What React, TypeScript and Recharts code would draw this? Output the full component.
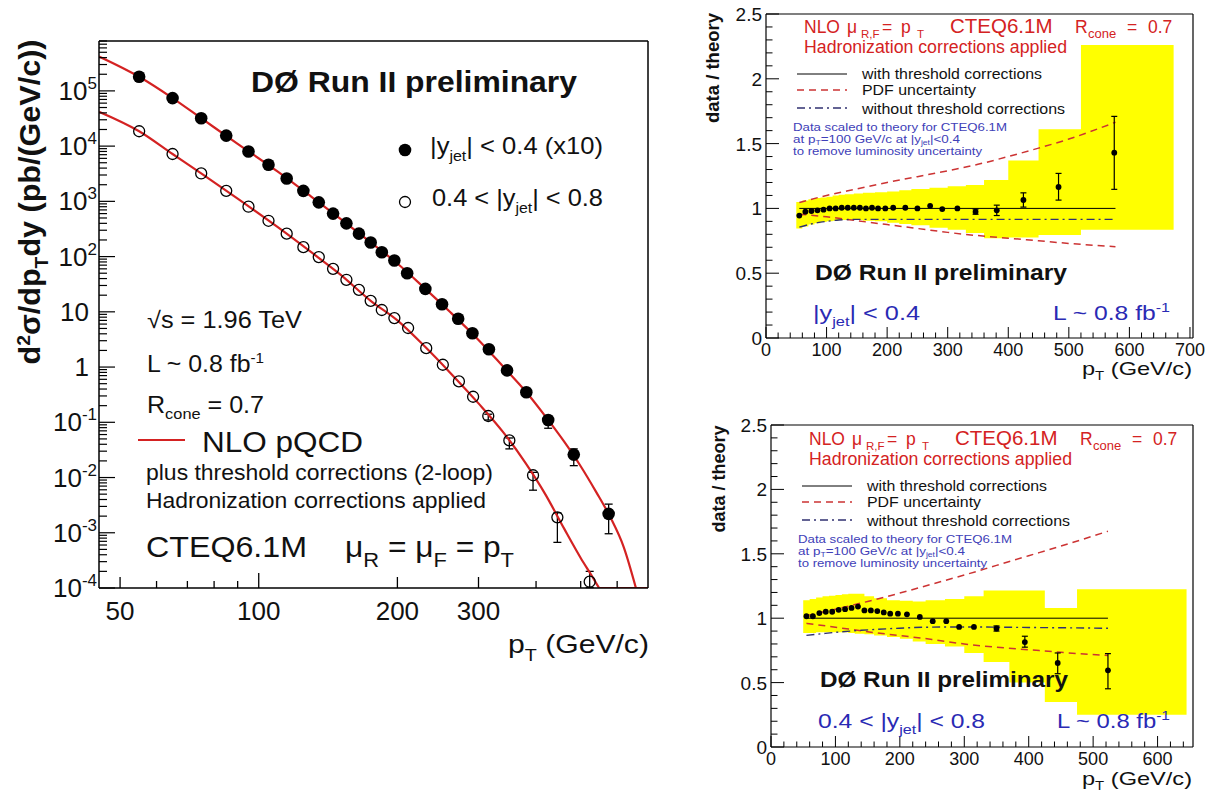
import React from 'react';
import { ComposedChart, Line, Scatter, XAxis, YAxis, Area, ErrorBar } from 'recharts';

const FONT = '"Liberation Sans", Arial, Helvetica, sans-serif';
const RED = '#d42222';
const BLUE = '#2a2ab4';
const SMALLBLUE = '#4040b8';
const DASHDOT = '#303070';

// ---------------- Left panel: cross sections ----------------
const ptCentral = [55, 65, 75, 85, 95, 105, 115, 125, 135, 145, 155, 165, 175, 185, 197, 210, 230, 250, 271, 291, 316, 346, 381, 425, 483, 575];
const xsCentral = [1.8e5, 7.4e4, 3.2e4, 1.55e4, 8.0e3, 4.6e3, 2.6e3, 1.55e3, 960, 600, 400, 260, 180, 120, 85, 50, 26, 13.7, 7.5, 4.1, 2.1, 0.87, 0.35, 0.11, 0.026, 2.2e-3];
const ptForward = [55, 65, 75, 85, 95, 105, 115, 125, 135, 145, 155, 165, 175, 185, 197, 211, 231, 251, 272, 292, 315, 350, 394, 445, 523];
const xsForward = [1.86e4, 7.2e3, 3.2e3, 1.55e3, 800, 445, 260, 148, 98, 60, 38, 25, 15.8, 10.8, 7.7, 5.1, 2.2, 1.1, 0.55, 0.29, 0.13, 0.047, 0.011, 1.9e-3, 1.3e-4];

const errCentralPt = [425, 483, 575];
const errCentralLo = [0.078, 0.0164, 9.6e-4];
const errCentralHi = [0.13, 0.033, 3.3e-3];
const errForwardPt = [315, 350, 394, 445, 523];
const errForwardLo = [0.11, 0.033, 5.9e-3, 6.7e-4, 1.02e-4];
const errForwardHi = [0.14, 0.052, 0.0124, 2.3e-3, 2.0e-4];

const thCentralPt = [45, 55, 65, 75, 90, 110, 130, 150, 175, 200, 230, 260, 300, 340, 380, 420, 460, 500, 540, 580, 620, 659];
const thCentral = [4.2e5, 1.8e5, 7.4e4, 3.2e4, 1.1e4, 3.45e3, 1.22e3, 490, 180, 75, 26, 10, 3.1, 1.0, 0.36, 0.125, 0.045, 0.016, 5.5e-3, 1.9e-3, 5.5e-4, 1e-4];
const thForwardPt = [45, 55, 65, 75, 90, 110, 130, 150, 175, 200, 230, 260, 300, 340, 380, 420, 460, 500, 530, 548];
const thForward = [4.2e4, 1.86e4, 7.2e3, 3.2e3, 1.12e3, 340, 120, 48, 15.8, 7.0, 2.3, 0.8, 0.22, 0.065, 0.018, 4.8e-3, 1.2e-3, 3.5e-4, 1.6e-4, 1.0e-4];
const thFloorPt = [548, 700];
const thFloor = [1e-4, 1e-4];

const leftXLabels = [50, 100, 200, 300];
const leftXMinor = [60, 70, 80, 90, 400, 500, 600];
const leftYDecades = [1e-4, 1e-3, 1e-2, 1e-1, 1, 10, 1e2, 1e3, 1e4, 1e5];

// ---------------- Top right: |y|<0.4 ratio ----------------
const ratioTopPt = ptCentral;
const ratioTop = [0.945, 0.975, 0.98, 0.985, 0.99, 1.0, 1.0, 1.005, 1.005, 1.005, 1.005, 1.0, 1.005, 1.0, 1.0, 1.005, 1.005, 1.0, 1.02, 0.995, 1.0, 0.975, 0.985, 1.065, 1.165, 1.43];
const errTopPt = [346, 381, 425, 483, 575];
const errTopLo = [0.955, 0.945, 1.01, 1.064, 1.147];
const errTopHi = [0.995, 1.025, 1.12, 1.27, 1.71];
const bandTopEdges = [50, 60, 70, 80, 90, 100, 110, 120, 130, 145, 160, 180, 200, 220, 240, 270, 300, 330, 360, 400, 450, 520, 673];
const bandTopLo = [0.845, 0.86, 0.875, 0.885, 0.895, 0.9, 0.905, 0.91, 0.91, 0.91, 0.905, 0.9, 0.89, 0.88, 0.87, 0.85, 0.835, 0.81, 0.77, 0.775, 0.795, 0.835];
const bandTopHi = [1.05, 1.06, 1.07, 1.08, 1.085, 1.09, 1.1, 1.105, 1.11, 1.115, 1.12, 1.125, 1.13, 1.14, 1.15, 1.16, 1.17, 1.18, 1.22, 1.37, 1.61, 2.26];
const pdfTopPt = [55, 100, 150, 200, 250, 300, 350, 400, 450, 500, 577];
const pdfUpTop = [1.045, 1.1, 1.15, 1.2, 1.245, 1.29, 1.34, 1.4, 1.465, 1.535, 1.665];
const pdfLoTop = [0.955, 0.935, 0.905, 0.875, 0.845, 0.815, 0.79, 0.77, 0.75, 0.73, 0.705];
const noThrTopPt = [55, 70, 85, 100, 120, 150, 200, 300, 400, 577];
const noThrTop = [0.855, 0.875, 0.89, 0.9, 0.91, 0.915, 0.915, 0.915, 0.915, 0.915];
const unityTopPt = [55, 577];
const unityTop = [1, 1];

// ---------------- Bottom right: 0.4<|y|<0.8 ratio ----------------
const ratioBotPt = ptForward;
const ratioBot = [1.015, 1.015, 1.04, 1.05, 1.05, 1.065, 1.07, 1.08, 1.09, 1.06, 1.06, 1.055, 1.045, 1.035, 1.035, 1.03, 1.01, 0.977, 0.977, 0.932, 0.932, 0.92, 0.815, 0.652, 0.595];
const errBotPt = [350, 394, 445, 523];
const errBotLo = [0.9, 0.775, 0.569, 0.452];
const errBotHi = [0.94, 0.86, 0.73, 0.725];
const bandBotEdges = [50, 60, 70, 80, 90, 100, 110, 120, 130, 145, 160, 180, 200, 220, 240, 270, 300, 330, 370, 425, 475, 645];
const bandBotLo = [0.885, 0.885, 0.89, 0.89, 0.89, 0.89, 0.89, 0.885, 0.88, 0.875, 0.865, 0.855, 0.84, 0.82, 0.8, 0.78, 0.73, 0.66, 0.5, 0.35, 0.25];
const bandBotHi = [1.14, 1.15, 1.16, 1.17, 1.175, 1.18, 1.185, 1.19, 1.19, 1.17, 1.155, 1.14, 1.135, 1.13, 1.14, 1.15, 1.17, 1.215, 1.215, 1.08, 1.225];
const pdfBotPt = [55, 100, 150, 200, 250, 300, 350, 400, 450, 523];
const pdfUpBot = [1.02, 1.07, 1.13, 1.195, 1.265, 1.335, 1.41, 1.485, 1.56, 1.675];
const pdfLoBot = [0.96, 0.93, 0.895, 0.865, 0.835, 0.8, 0.775, 0.755, 0.735, 0.71];
const noThrBotPt = [55, 80, 100, 140, 190, 240, 300, 400, 523];
const noThrBot = [0.867, 0.88, 0.89, 0.906, 0.92, 0.93, 0.932, 0.928, 0.922];
const unityBotPt = [55, 523];
const unityBot = [1, 1];

const ratioYLabels = [0, 0.5, 1, 1.5, 2, 2.5];

// ---------------- helpers ----------------
const table = (pts: number[], vals: number[]) => pts.map((pt, i) => ({ pt, v: vals[i] }));
const errTable = (pts: number[], vals: number[], ePts: number[], lo: number[], hi: number[]) =>
  ePts.map((pt, i) => {
    const v = vals[pts.indexOf(pt)];
    return { pt, v, err: [v - lo[i], hi[i] - v] };
  });
const bandTable = (edges: number[], lo: number[], hi: number[]) =>
  edges.map((pt, i) => {
    const k = Math.min(i, lo.length - 1);
    return { pt, band: [lo[k], hi[k]] };
  });
const stepTicks = (a: number, b: number, step: number) => {
  const r: number[] = [];
  for (let i = 0; a + i * step <= b + 1e-9; i++) r.push(Number((a + i * step).toFixed(4)));
  return r;
};

const leftYTicks: number[] = [];
leftYDecades.forEach((d) => {
  leftYTicks.push(d);
  for (let k = 2; k <= 9; k++) {
    const v = Number((k * d).toPrecision(6));
    if (v <= 8e5) leftYTicks.push(v);
  }
});
const leftXTicks = [...leftXLabels, ...leftXMinor].sort((a, b) => a - b);

// ---------------- tick renderers ----------------
const LeftXTick = (props: any) => {
  const { x, y, payload } = props;
  const v = payload.value;
  const labeled = leftXLabels.includes(v);
  const len = v === 100 ? 15 : labeled ? 11 : 7;
  return (
    <g>
      <line x1={x} x2={x} y1={y} y2={y - len} stroke="#000" strokeWidth={1.3} />
      {labeled && (
        <text x={x} y={y + 32} textAnchor="middle" fontSize={26} fontFamily={FONT} fill="#111">
          {v}
        </text>
      )}
    </g>
  );
};

const LeftYTick = (props: any) => {
  const { x, y, payload } = props;
  const v = payload.value;
  const lg = Math.log10(v);
  const e = Math.round(lg);
  const major = Math.abs(lg - e) < 1e-6;
  let label: any = null;
  if (major) {
    if (e === 0 || e === 1) {
      label = (
        <text x={x - 10} y={y + 9} textAnchor="end" fontSize={26} fontFamily={FONT} fill="#111">
          {e === 0 ? '1' : '10'}
        </text>
      );
    } else {
      label = (
        <text x={x - 2} y={y + 9} textAnchor="end" fontSize={26} fontFamily={FONT} fill="#111">
          10<tspan dy={-11} fontSize={17}>{String(e)}</tspan>
        </text>
      );
    }
  }
  return (
    <g>
      <line x1={x} x2={x + (major ? 16 : 8)} y1={y} y2={y} stroke="#000" strokeWidth={1.2} />
      {label}
    </g>
  );
};

const RatioYTick = (props: any) => {
  const { x, y, payload } = props;
  const v = payload.value;
  const major = ratioYLabels.some((m) => Math.abs(m - v) < 1e-6);
  return (
    <g>
      <line x1={x} x2={x + (major ? 13 : 6.5)} y1={y} y2={y} stroke="#000" strokeWidth={1} />
      {major && (
        <text x={x - 4} y={y + 7} textAnchor="end" fontSize={19} fontFamily={FONT} fill="#111">
          {String(Math.round(v * 10) / 10)}
        </text>
      )}
    </g>
  );
};

const RatioXTick = (props: any) => {
  const { x, y, payload } = props;
  const v = payload.value;
  const major = Math.abs(v / 100 - Math.round(v / 100)) < 1e-6;
  return (
    <g>
      <line x1={x} x2={x} y1={y} y2={y - (major ? 11 : 5.5)} stroke="#000" strokeWidth={1} />
      {major && (
        <text x={x} y={y + 18} textAnchor="middle" fontSize={18} fontFamily={FONT} fill="#111">
          {String(v)}
        </text>
      )}
    </g>
  );
};

const FilledDot = (r: number) => (p: any) => <circle cx={p.cx} cy={p.cy} r={r} fill="#000" />;
const OpenDot = (p: any) => <circle cx={p.cx} cy={p.cy} r={5.5} fill="none" stroke="#000" strokeWidth={1.3} />;
const NoDot = () => <g />;

// ---------------- charts ----------------
function LeftChart() {
  const W = 690;
  const H = 700;
  return (
    <ComposedChart width={W} height={H} margin={{ top: 40, left: 98, right: W - 648 - 1, bottom: H - 588 - 1 }}>
      <XAxis xAxisId="b" dataKey="pt" type="number" scale="log" domain={[45, 700]} allowDataOverflow ticks={leftXTicks}
        interval={0} tick={LeftXTick} tickLine={false} tickSize={0} tickMargin={0} height={1}
        axisLine={{ stroke: '#000', strokeWidth: 1.5 }} />
      <XAxis xAxisId="t" orientation="top" type="number" scale="log" domain={[45, 700]} allowDataOverflow tick={false}
        tickLine={false} height={1} axisLine={{ stroke: '#000', strokeWidth: 1.5 }} />
      <YAxis yAxisId="l" dataKey="v" type="number" scale="log" domain={[1e-4, 8e5]} allowDataOverflow ticks={leftYTicks}
        interval={0} tick={LeftYTick} tickLine={false} tickSize={0} tickMargin={0} width={1}
        axisLine={{ stroke: '#000', strokeWidth: 1.5 }} />
      <YAxis yAxisId="r" orientation="right" type="number" scale="log" domain={[1e-4, 8e5]} allowDataOverflow tick={false}
        tickLine={false} width={1} axisLine={{ stroke: '#000', strokeWidth: 1.5 }} />
      <Scatter xAxisId="b" yAxisId="l" data={table(ptCentral, xsCentral)} shape={FilledDot(6.3)} isAnimationActive={false} />
      <Scatter xAxisId="b" yAxisId="l" data={table(ptForward, xsForward)} shape={OpenDot} isAnimationActive={false} />
      <Scatter xAxisId="b" yAxisId="l" data={errTable(ptCentral, xsCentral, errCentralPt, errCentralLo, errCentralHi)} shape={NoDot} isAnimationActive={false}>
        <ErrorBar dataKey="err" direction="y" width={4} stroke="#000" strokeWidth={1.3} isAnimationActive={false} />
      </Scatter>
      <Scatter xAxisId="b" yAxisId="l" data={errTable(ptForward, xsForward, errForwardPt, errForwardLo, errForwardHi)} shape={NoDot} isAnimationActive={false}>
        <ErrorBar dataKey="err" direction="y" width={4} stroke="#000" strokeWidth={1.3} isAnimationActive={false} />
      </Scatter>
      <Line xAxisId="b" yAxisId="l" data={table(thCentralPt, thCentral)} dataKey="v" type="monotone" stroke={RED} strokeWidth={2.2} dot={false} isAnimationActive={false} />
      <Line xAxisId="b" yAxisId="l" data={table(thForwardPt, thForward)} dataKey="v" type="monotone" stroke={RED} strokeWidth={2.2} dot={false} isAnimationActive={false} />
      <Line xAxisId="b" yAxisId="l" data={table(thFloorPt, thFloor)} dataKey="v" type="linear" stroke={RED} strokeWidth={2.2} dot={false} isAnimationActive={false} />
    </ComposedChart>
  );
}

type RatioProps = {
  W: number; H: number; margin: any; xMax: number; xTicks: number[];
  band: any[]; pts: number[]; vals: number[]; errs: any[];
  pdfPt: number[]; pdfUp: number[]; pdfLo: number[];
  ntPt: number[]; nt: number[]; uPt: number[]; u: number[];
};

function RatioChart(p: RatioProps) {
  const yTicks = stepTicks(0, 2.5, 0.1);
  return (
    <ComposedChart width={p.W} height={p.H} margin={p.margin} data={p.band}>
      <XAxis xAxisId="b" dataKey="pt" type="number" domain={[0, p.xMax]} allowDataOverflow ticks={p.xTicks} interval={0}
        tick={RatioXTick} tickLine={false} tickSize={0} tickMargin={0} height={1} axisLine={{ stroke: '#000', strokeWidth: 1.2 }} />
      <XAxis xAxisId="t" orientation="top" type="number" domain={[0, p.xMax]} tick={false} tickLine={false} height={1}
        axisLine={{ stroke: '#000', strokeWidth: 1.2 }} />
      <YAxis yAxisId="l" dataKey="v" type="number" domain={[0, 2.5]} allowDataOverflow ticks={yTicks} interval={0}
        tick={RatioYTick} tickLine={false} tickSize={0} tickMargin={0} width={1} axisLine={{ stroke: '#000', strokeWidth: 1.2 }} />
      <YAxis yAxisId="r" orientation="right" type="number" domain={[0, 2.5]} tick={false} tickLine={false} width={1}
        axisLine={{ stroke: '#000', strokeWidth: 1.2 }} />
      <Area xAxisId="b" yAxisId="l" dataKey="band" type="stepAfter" fill="#ffff00" fillOpacity={1} stroke="none" isAnimationActive={false} />
      <Line xAxisId="b" yAxisId="l" data={table(p.pdfPt, p.pdfUp)} dataKey="v" type="monotone" stroke="#cc3333" strokeWidth={1.5} strokeDasharray="7 5" dot={false} isAnimationActive={false} />
      <Line xAxisId="b" yAxisId="l" data={table(p.pdfPt, p.pdfLo)} dataKey="v" type="monotone" stroke="#cc3333" strokeWidth={1.5} strokeDasharray="7 5" dot={false} isAnimationActive={false} />
      <Line xAxisId="b" yAxisId="l" data={table(p.ntPt, p.nt)} dataKey="v" type="monotone" stroke={DASHDOT} strokeWidth={1.4} strokeDasharray="8 4 2 4" dot={false} isAnimationActive={false} />
      <Line xAxisId="b" yAxisId="l" data={table(p.uPt, p.u)} dataKey="v" type="linear" stroke="#000" strokeWidth={1} dot={false} isAnimationActive={false} />
      <Scatter xAxisId="b" yAxisId="l" data={p.errs} shape={NoDot} isAnimationActive={false}>
        <ErrorBar dataKey="err" direction="y" width={3} stroke="#000" strokeWidth={1.2} isAnimationActive={false} />
      </Scatter>
      <Scatter xAxisId="b" yAxisId="l" data={table(p.pts, p.vals)} shape={FilledDot(2.9)} isAnimationActive={false} />
    </ComposedChart>
  );
}

// ---------------- annotations ----------------
const LA = { lengthAdjust: 'spacingAndGlyphs' as any };

function RightHeader({ ox, oy }: { ox: number; oy: number }) {
  const y1 = 33 + oy;
  const ys = y1 + 5;
  return (
    <g>
      <text fill={RED} fontSize={17.5}>
        <tspan x={804 + ox} y={y1}>NLO</tspan>
        <tspan x={847 + ox} y={y1}>μ</tspan>
        <tspan x={861 + ox} y={ys} fontSize={11.5}>R,F</tspan>
        <tspan x={882 + ox} y={y1}>=</tspan>
        <tspan x={901 + ox} y={y1}>p</tspan>
        <tspan x={917 + ox} y={ys} fontSize={11.5}>T</tspan>
        <tspan x={950 + ox} y={y1} fontSize={20.5}>CTEQ6.1M</tspan>
        <tspan x={1075 + ox} y={y1}>R</tspan>
        <tspan x={1088 + ox} y={ys} fontSize={13}>cone</tspan>
        <tspan x={1127 + ox} y={y1}>=</tspan>
        <tspan x={1148 + ox} y={y1}>0.7</tspan>
      </text>
      <text fill={RED} fontSize={17.5} x={804 + ox} y={52.5 + oy} textLength={263} {...LA}>Hadronization corrections applied</text>
      <line x1={797 + ox} x2={847 + ox} y1={74 + oy} y2={74 + oy} stroke="#000" strokeWidth={1} />
      <line x1={797 + ox} x2={847 + ox} y1={90 + oy} y2={90 + oy} stroke="#cc3333" strokeWidth={1.5} strokeDasharray="7 5" />
      <line x1={797 + ox} x2={847 + ox} y1={108 + oy} y2={108 + oy} stroke={DASHDOT} strokeWidth={1.4} strokeDasharray="8 4 2 4" />
      <g fill="#111" fontSize={15}>
        <text x={862 + ox} y={79 + oy} textLength={180} {...LA}>with threshold corrections</text>
        <text x={862 + ox} y={95 + oy} textLength={114} {...LA}>PDF uncertainty</text>
        <text x={862 + ox} y={114 + oy} textLength={203} {...LA}>without threshold corrections</text>
      </g>
      <g fill={SMALLBLUE} fontSize={11}>
        <text x={793 + ox} y={130.5 + oy} textLength={214} {...LA}>Data scaled to theory for CTEQ6.1M</text>
        <text x={793 + ox} y={142.5 + oy} textLength={167} {...LA}>
          at p<tspan dy={2} fontSize={7}>T</tspan><tspan dy={-2}>=100 GeV/c at |y</tspan><tspan dy={2} fontSize={7}>jet</tspan><tspan dy={-2}>|&lt;0.4</tspan>
        </text>
        <text x={793 + ox} y={155 + oy} textLength={189} {...LA}>to remove luminosity uncertainty</text>
      </g>
    </g>
  );
}

function Annotations() {
  return (
    <svg width={1224} height={793} style={{ position: 'absolute', left: 0, top: 0, pointerEvents: 'none' }} fontFamily={FONT}>
      {/* left panel */}
      <text x={251} y={92} fontSize={30} fontWeight="bold" fill="#111" textLength={326} {...LA}>DØ Run II preliminary</text>
      <circle cx={405} cy={150} r={6.3} fill="#000" />
      <text x={430} y={154} fontSize={24} fill="#111" textLength={173} {...LA}>
        |y<tspan dy={7} fontSize={15}>jet</tspan><tspan dy={-7}>{'| < 0.4 (x10)'}</tspan>
      </text>
      <circle cx={405} cy={202} r={5.5} fill="none" stroke="#000" strokeWidth={1.3} />
      <text x={432} y={206} fontSize={24} fill="#111" textLength={171} {...LA}>
        {'0.4 < |y'}<tspan dy={7} fontSize={15}>jet</tspan><tspan dy={-7}>{'| < 0.8'}</tspan>
      </text>
      <text x={147} y={328} fontSize={23} fill="#111" textLength={155} {...LA}>√s = 1.96 TeV</text>
      <text x={147} y={372} fontSize={23} fill="#111" textLength={117} {...LA}>
        L ~ 0.8 fb<tspan dy={-9} fontSize={14}>-1</tspan>
      </text>
      <text x={147} y={413} fontSize={23} fill="#111" textLength={117} {...LA}>
        R<tspan dy={6} fontSize={15}>cone</tspan><tspan dy={-6}> = 0.7</tspan>
      </text>
      <line x1={138} x2={185} y1={440} y2={440} stroke={RED} strokeWidth={2.2} />
      <text x={202} y={452} fontSize={30} fill="#111" textLength={161} {...LA}>NLO pQCD</text>
      <text x={146} y={480} fontSize={22} fill="#111" textLength={347} {...LA}>plus threshold corrections (2-loop)</text>
      <text x={146} y={508} fontSize={22} fill="#111" textLength={340} {...LA}>Hadronization corrections applied</text>
      <text x={146} y={557} fontSize={29} fill="#111" textLength={161} {...LA}>CTEQ6.1M</text>
      <text x={345} y={557} fontSize={29} fill="#111" textLength={169} {...LA}>
        μ<tspan dy={10} fontSize={20}>R</tspan><tspan dy={-10}> = μ</tspan><tspan dy={10} fontSize={20}>F</tspan><tspan dy={-10}> = p</tspan><tspan dy={10} fontSize={20}>T</tspan>
      </text>
      <text x={508} y={653} fontSize={26} fill="#111" textLength={141} {...LA}>
        p<tspan dy={8} fontSize={17}>T</tspan><tspan dy={-8}> (GeV/c)</tspan>
      </text>
      <text transform="rotate(-90)" x={-202} y={40} textAnchor="middle" fontSize={30} fontWeight="bold" fill="#111" textLength={325} {...LA}>
        d<tspan dy={-10} fontSize={19}>2</tspan><tspan dy={10}>σ/dp</tspan><tspan dy={8} fontSize={19}>T</tspan><tspan dy={-8}>dy (pb/(GeV/c))</tspan>
      </text>

      {/* top right */}
      <RightHeader ox={0} oy={0} />
      <text x={815} y={280} fontSize={22} fontWeight="bold" fill="#111" textLength={252} {...LA}>DØ Run II preliminary</text>
      <text x={813} y={320} fontSize={20} fill={BLUE} textLength={107} {...LA}>
        |y<tspan dy={6} fontSize={13}>jet</tspan><tspan dy={-6}>{'| < 0.4'}</tspan>
      </text>
      <text x={1053} y={320} fontSize={20} fill={BLUE} textLength={117} {...LA}>
        L ~ 0.8 fb<tspan dy={-8} fontSize={13}>-1</tspan>
      </text>
      <text transform="rotate(-90)" x={-68} y={719} textAnchor="middle" fontSize={18} fontWeight="bold" fill="#111" textLength={110} {...LA}>data / theory</text>
      <text x={1082} y={375} fontSize={19} fill="#111" textLength={110} {...LA}>
        p<tspan dy={5} fontSize={12}>T</tspan><tspan dy={-5}> (GeV/c)</tspan>
      </text>

      {/* bottom right */}
      <RightHeader ox={5} oy={412} />
      <text x={820} y={687} fontSize={22} fontWeight="bold" fill="#111" textLength={248} {...LA}>DØ Run II preliminary</text>
      <text x={818} y={728} fontSize={20} fill={BLUE} textLength={167} {...LA}>
        {'0.4 < |y'}<tspan dy={6} fontSize={13}>jet</tspan><tspan dy={-6}>{'| < 0.8'}</tspan>
      </text>
      <text x={1057} y={728} fontSize={20} fill={BLUE} textLength={113} {...LA}>
        L ~ 0.8 fb<tspan dy={-8} fontSize={13}>-1</tspan>
      </text>
      <text transform="rotate(-90)" x={-479} y={725} textAnchor="middle" fontSize={18} fontWeight="bold" fill="#111" textLength={107} {...LA}>data / theory</text>
      <text x={1082} y={785} fontSize={19} fill="#111" textLength={110} {...LA}>
        p<tspan dy={5} fontSize={12}>T</tspan><tspan dy={-5}> (GeV/c)</tspan>
      </text>
    </svg>
  );
}

export default function App() {
  return (
    <div style={{ position: 'absolute', left: 0, top: 0, width: 1224, height: 793, background: '#fff', overflow: 'hidden', fontFamily: FONT }}>
      <div style={{ position: 'absolute', left: 0, top: 0 }}>
        <LeftChart />
      </div>
      <div style={{ position: 'absolute', left: 700, top: 0 }}>
        <RatioChart
          W={524} H={400} margin={{ top: 13, left: 65, right: 30, bottom: 61 }} xMax={705}
          xTicks={stepTicks(0, 700, 20)}
          band={bandTable(bandTopEdges, bandTopLo, bandTopHi)}
          pts={ratioTopPt} vals={ratioTop}
          errs={errTable(ratioTopPt, ratioTop, errTopPt, errTopLo, errTopHi)}
          pdfPt={pdfTopPt} pdfUp={pdfUpTop} pdfLo={pdfLoTop}
          ntPt={noThrTopPt} nt={noThrTop} uPt={unityTopPt} u={unityTop}
        />
      </div>
      <div style={{ position: 'absolute', left: 700, top: 400 }}>
        <RatioChart
          W={524} H={393} margin={{ top: 24, left: 70, right: 30, bottom: 45 }} xMax={655}
          xTicks={stepTicks(0, 640, 20)}
          band={bandTable(bandBotEdges, bandBotLo, bandBotHi)}
          pts={ratioBotPt} vals={ratioBot}
          errs={errTable(ratioBotPt, ratioBot, errBotPt, errBotLo, errBotHi)}
          pdfPt={pdfBotPt} pdfUp={pdfUpBot} pdfLo={pdfLoBot}
          ntPt={noThrBotPt} nt={noThrBot} uPt={unityBotPt} u={unityBot}
        />
      </div>
      <Annotations />
    </div>
  );
}
